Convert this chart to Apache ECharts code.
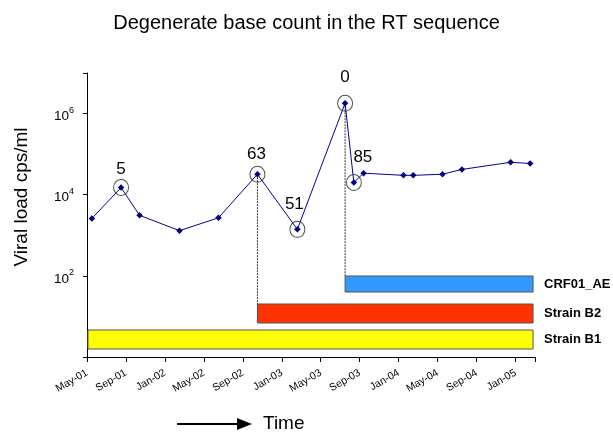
<!DOCTYPE html>
<html><head><meta charset="utf-8">
<script src="https://cdn.jsdelivr.net/npm/echarts@6/dist/echarts.min.js"></script>
<style>html,body{margin:0;padding:0;background:#fff}#c{width:613px;height:432px}</style>
</head><body><div id="c"></div>
<script>
// x tick labels (every 4 months starting May 2001)
const tickLabels = ['May-01','Sep-01','Jan-02','May-02','Sep-02','Jan-03','May-03','Sep-03','Jan-04','May-04','Sep-04','Jan-05'];
// sample times, in months since May 2001
const sampleMonths = [0.5, 3.5, 5.4, 9.5, 13.5, 17.5, 21.6, 26.5, 27.4, 28.4, 32.5, 33.5, 36.5, 38.5, 43.5, 45.5];
// viral load, copies/ml
const viralLoad = [2600, 15000, 3100, 1300, 2700, 32000, 1400, 1800000, 20000, 34000, 30000, 30000, 32000, 42000, 63000, 59000];
// circled samples and their degenerate base counts
const circledIdx = [1, 5, 6, 7, 8];
const degenerateCounts = ['5', '63', '51', '0', '85'];
// strains present (bars), months since May 2001
const strainNames = ['Strain B1', 'Strain B2', 'CRF01_AE'];
const strainStart = [0.1, 17.5, 26.5];
const strainEnd = [45.8, 45.8, 45.8];
const strainLinkIdx = [-1, 5, 7];

// styles
const strainColors = ['#FFFF00', '#FF3300', '#3399FF'];
const barGap = [8, 34, 65];
const barH = [19, 19, 16];
const labelOffsets = [[0, -18], [-1, -20], [-3, -25], [0, -26], [9, -25]];
const FONT = '"Liberation Sans", Arial, Helvetica, sans-serif';

const chart = echarts.init(document.getElementById('c'), null, {renderer: 'canvas'});

const option = {
  animation: false,
  textStyle: {fontFamily: FONT, color: '#000'},
  title: {
    text: 'Degenerate base count in the RT sequence',
    left: 'center', top: 8,
    textStyle: {fontFamily: FONT, fontSize: 20, fontWeight: 'normal', color: '#000'}
  },
  grid: {left: 87, right: 78, top: 73, bottom: 75, containLabel: false},
  xAxis: {
    type: 'value', min: 0, max: 46, interval: 4,
    splitLine: {show: false},
    axisLine: {show: true, lineStyle: {color: '#000', width: 1}},
    axisTick: {show: true, length: 5, lineStyle: {color: '#000'}},
    axisLabel: {
      rotate: 30, fontSize: 10.5, margin: 15, color: '#000', fontFamily: FONT,
      formatter: v => (v % 4 === 0 && tickLabels[v / 4] !== undefined) ? tickLabels[v / 4] : ''
    }
  },
  yAxis: {
    type: 'log', logBase: 10, min: 1, max: 1e7, interval: 2,
    name: 'Viral load cps/ml', nameLocation: 'middle', nameGap: 56,
    nameTextStyle: {fontSize: 19, color: '#000', fontFamily: FONT, padding: [0, 0, 0, 36]},
    splitLine: {show: false},
    axisLine: {show: true, lineStyle: {color: '#000', width: 1}},
    axisTick: {show: true, length: 4, lineStyle: {color: '#000'}},
    axisLabel: {
      margin: 13, color: '#000',
      formatter: v => {
        const e = Math.round(Math.log10(v));
        if (e <= 0 || e >= 7) return '';
        return '{b|10}{s|' + e + '}';
      },
      rich: {
        b: {fontSize: 13.5, fontFamily: FONT, color: '#000', padding: [6, 0, 0, 0]},
        s: {fontSize: 9, fontFamily: FONT, color: '#000', padding: [0, 0, 6, 0]}
      }
    }
  },
  series: [
    {
      type: 'custom', clip: false, z: 1,
      data: strainStart.map((s, i) => [s, strainEnd[i]]),
      encode: {x: [0, 1], y: 1},
      renderItem: (params, api) => {
        const i = params.dataIndex;
        const cs = params.coordSys;
        const x0 = api.coord([api.value(0), 10])[0];
        const x1 = api.coord([api.value(1), 10])[0];
        const bottom = cs.y + cs.height;
        const yb = bottom - barGap[i];
        const top = yb - barH[i];
        const children = [
          {type: 'rect', shape: {x: x0, y: top, width: x1 - x0, height: barH[i]},
           style: {fill: strainColors[i], stroke: '#555', lineWidth: 1}},
          {type: 'text', style: {text: strainNames[i], x: x1 + 11, y: top + barH[i] / 2,
            verticalAlign: 'middle', align: 'left', font: 'bold 13px ' + FONT, fill: '#000'}}
        ];
        const li = strainLinkIdx[i];
        if (li >= 0) {
          const p = api.coord([sampleMonths[li], viralLoad[li]]);
          children.push({type: 'line', shape: {x1: p[0], y1: p[1], x2: p[0], y2: top},
            style: {stroke: '#333', lineWidth: 1, lineDash: [2, 1]}});
        }
        return {type: 'group', children};
      }
    },
    {
      type: 'line', z: 3,
      data: sampleMonths.map((m, i) => [m, viralLoad[i]]),
      symbol: 'diamond', symbolSize: 6.5, showSymbol: true,
      lineStyle: {color: '#000099', width: 1},
      itemStyle: {color: '#000080'}
    },
    {
      type: 'scatter', z: 4,
      symbol: 'circle', symbolSize: [15, 16],
      itemStyle: {color: 'rgba(0,0,0,0)', borderColor: '#222', borderWidth: 1},
      data: circledIdx.map((idx, k) => ({
        value: [sampleMonths[idx], viralLoad[idx]],
        label: {offset: labelOffsets[k]}
      })),
      label: {
        show: true, position: 'inside', fontSize: 17, color: '#000', fontFamily: FONT,
        textBorderWidth: 0, opacity: 1,
        formatter: p => degenerateCounts[p.dataIndex]
      },
      emphasis: {disabled: true}
    }
  ],
  graphic: [
    {type: 'line', shape: {x1: 177, y1: 424, x2: 240, y2: 424}, style: {stroke: '#000', lineWidth: 2}},
    {type: 'polygon', shape: {points: [[237, 418], [252, 424], [237, 430]]}, style: {fill: '#000'}},
    {type: 'text', x: 263, y: 424, style: {text: 'Time', font: '19px ' + FONT, fill: '#000', verticalAlign: 'middle'}}
  ]
};
chart.setOption(option);
</script>
</body></html>
